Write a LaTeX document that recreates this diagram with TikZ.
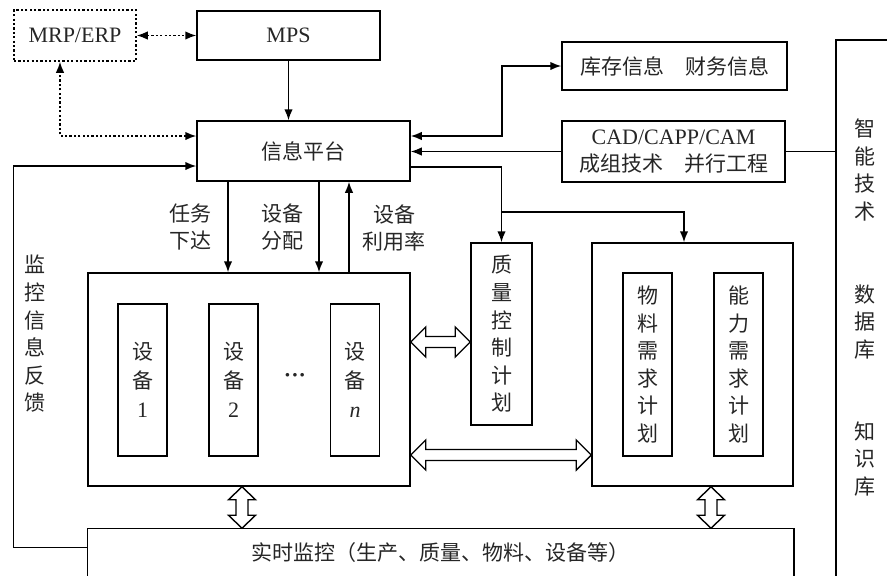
\documentclass[tikz,border=0pt]{standalone}
\usepackage{fontspec}
\setmainfont{Liberation Serif}
\newfontfamily\cjk{Noto Sans CJK SC}
\usetikzlibrary{arrows.meta,calc}
\newcommand\lat{\rmfamily\fontsize{22}{28}\selectfont}
\newcommand\hdarr[2]{\draw[hollow] let \p1=(#1), \p2=(#2) in
  (\x1,\y1) -- (\x1+15pt,\y1+15pt) -- (\x1+15pt,\y1+5.5pt) -- (\x2-15pt,\y1+5.5pt) -- (\x2-15pt,\y1+15pt) -- (\x2,\y1)
  -- (\x2-15pt,\y1-15pt) -- (\x2-15pt,\y1-5.5pt) -- (\x1+15pt,\y1-5.5pt) -- (\x1+15pt,\y1-15pt) -- cycle;}
\newcommand\vdarr[2]{\draw[hollow] let \p1=(#1), \p2=(#2) in
  (\x1,\y1) -- (\x1+13.5pt,\y1-13pt) -- (\x1+6pt,\y1-13pt) -- (\x1+6pt,\y2+13pt) -- (\x1+13.5pt,\y2+13pt) -- (\x1,\y2)
  -- (\x1-13.5pt,\y2+13pt) -- (\x1-6pt,\y2+13pt) -- (\x1-6pt,\y1-13pt) -- (\x1-13.5pt,\y1-13pt) -- cycle;}
\begin{document}
\begin{tikzpicture}[x=1pt,y=-1pt,
  box/.style={draw, line width=1.5pt, inner sep=0pt, align=center, text=black!85,
    font=\cjk\fontsize{21}{27.6}\selectfont},
  dbox/.style={box, dash pattern=on 2.2pt off 2.2pt},
  lbl/.style={inner sep=0pt, align=center, text=black!85, font=\cjk\fontsize{21}{27.6}\selectfont},
  line/.style={line width=1.5pt},
  arr/.style={line, -{Latex[length=11pt,width=8.5pt]}},
  darr/.style={line, dash pattern=on 2.2pt off 2.2pt, {Latex[length=11pt,width=8.5pt]}-{Latex[length=11pt,width=8.5pt]}},
  hollow/.style={line width=1.4pt, fill=white, line join=miter}]
\useasboundingbox (0,0) rectangle (887,576);

% boxes
\node[dbox, minimum width=122pt, minimum height=51pt, font=\lat] (mrp) at (75,35.5) {MRP/ERP};
\node[box, minimum width=183pt, minimum height=49pt, font=\lat] (mps) at (288.5,35.5) {MPS};
\node[box, minimum width=213pt, minimum height=60pt] (info) at (303.5,151) {信息平台};
\node[box, minimum width=225pt, minimum height=48pt] (kc) at (674.5,66) {库存信息\hspace{1em}财务信息};
\node[box, minimum width=223pt, minimum height=61pt] (cad) at (673.5,151.5) {{\lat CAD/CAPP/CAM}\\成组技术\hspace{1em}并行工程};

\node[box, minimum width=322pt, minimum height=213pt] (dev) at (249,379.5) {};
\node[box, minimum width=49pt, minimum height=152pt, font=\cjk\fontsize{21}{29}\selectfont] (d1) at (142.5,380) {设\\备\\{\lat 1}};
\node[box, minimum width=49pt, minimum height=152pt, font=\cjk\fontsize{21}{29}\selectfont] (d2) at (233.5,380) {设\\备\\{\lat 2}};
\node[box, minimum width=49pt, minimum height=152pt, font=\cjk\fontsize{21}{29}\selectfont] (dn) at (355,380) {设\\备\\{\lat\itshape n}};
\node[lbl, font=\lat\bfseries] (dots) at (295,378) {···};

\node[box, minimum width=61pt, minimum height=182pt] (qc) at (501.5,334) {质\\量\\控\\制\\计\\划};
\node[box, minimum width=201pt, minimum height=243pt] (rb) at (692.5,364.5) {};
\node[box, minimum width=49pt, minimum height=183pt] (m1) at (647.5,364.5) {物\\料\\需\\求\\计\\划};
\node[box, minimum width=49pt, minimum height=183pt] (m2) at (738.5,364.5) {能\\力\\需\\求\\计\\划};

\node[box, draw=none, minimum width=705pt, minimum height=47pt] (rt) at (440.5,552.5) {实时监控（生产、质量、物料、设备等）};
\draw[line] (rt.south west) -- (rt.north west) -- (rt.north east) -- (rt.south east);

% labels
\node[lbl] (l1) at (190,227) {任务\\下达};
\node[lbl] (l2) at (282,227) {设备\\分配};
\node[lbl] (l3) at (394,228) {设备\\利用率};
\node[lbl] (fbl) at (35,334) {监\\控\\信\\息\\反\\馈};
\node[lbl] (r1) at (865,170) {智\\能\\技\\术};
\node[lbl] (r2) at (865,322) {数\\据\\库};
\node[lbl] (r3) at (865,459) {知\\识\\库};

% right bracket
\coordinate (brtop) at (836,40);
\coordinate (brbot) at (836,576);
\coordinate (bredge) at (887,40);
\draw[line] (brbot) -- (brtop) -- (bredge);
\draw[line] (cad.east) -- (cad.east -| brtop);

% connectors
\draw[darr] (mrp.east) -- (mps.west);
\draw[darr] ([yshift=15pt]info.west) -| ([xshift=-15pt]mrp.south);
\draw[arr] (mps.south) -- (mps.south |- info.north);
\draw[arr] ([yshift=5pt]rt.west) -- ++(-74,0) |- ([yshift=-15pt]info.west);

\coordinate (c1) at (228,0);
\coordinate (c2) at (319,0);
\coordinate (c3) at (349,0);
\draw[arr] (info.south -| c1) -- (dev.north -| c1);
\draw[arr] (info.south -| c2) -- (dev.north -| c2);
\draw[arr] (dev.north -| c3) -- (info.south -| c3);

\coordinate (j1) at (502,100);
\draw[line, {Latex[length=11pt,width=8.5pt]}-{Latex[length=11pt,width=8.5pt]}] ([yshift=15pt]info.east) -| (j1) |- (kc.west);
\draw[arr] (cad.west) -- (cad.west -| info.east);
\draw[arr] ([yshift=-16pt]info.east) -| (qc.north);
\coordinate (c4) at (684,212);
\draw[arr] (qc.north |- c4) -- (c4) -- (c4 |- rb.north);

% hollow arrows
\coordinate (h1) at (0,342);
\coordinate (h2) at (0,455);
\coordinate (v1) at (242,0);
\coordinate (v2) at (711,0);
\hdarr{dev.east |- h1}{qc.west |- h1}
\hdarr{dev.east |- h2}{rb.west |- h2}
\vdarr{dev.south -| v1}{rt.north -| v1}
\vdarr{rb.south -| v2}{rt.north -| v2}
\end{tikzpicture}
\end{document}
